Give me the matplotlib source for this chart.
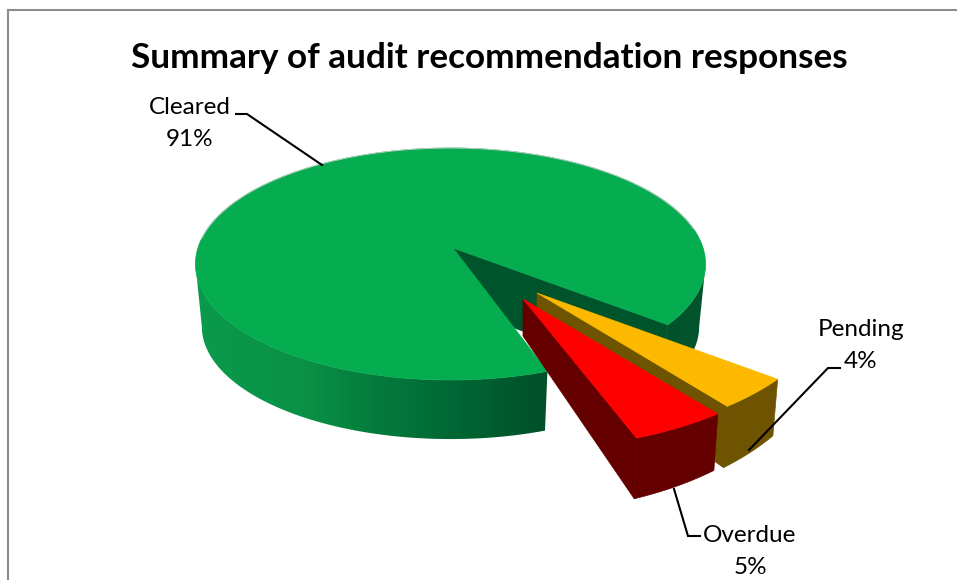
import numpy as np
import matplotlib
matplotlib.use("Agg")
import matplotlib.pyplot as plt
from matplotlib.patches import Polygon

TITLE = "Summary of audit recommendation responses"
categories = ["Cleared", "Pending", "Overdue"]
values = [91, 4, 5]
percent_labels = ["91%", "4%", "5%"]

W, H = 957, 580
GREEN, YELLOW, RED = "#06AD50", "#FDB900", "#FF0000"
YELLOW_WALL, RED_WALL, GREEN_CUT = "#6E5300", "#640000", "#00542B"
plt.rcParams["font.family"] = ["Lato", "DejaVu Sans"]

fig = plt.figure(figsize=(W / 100, H / 100), dpi=100)
ax = fig.add_axes([0, 0, 1, 1])
ax.axis("off")

# slice angles from the values (degrees, clockwise on screen, 90 = front)
START = 70.5
spans = np.array(values) / sum(values) * 360
a_cleared = (START, START + spans[0])
NUDGE = -2.5
a_pending = (a_cleared[1] - 360 + NUDGE, a_cleared[1] - 360 + NUDGE + spans[1])
a_overdue = (a_pending[1], a_pending[1] + spans[2])

# main disc: perspective projection of the unit circle
AX0, AY0 = 453, 248
CX = 450.5
K, B, A_ = -0.138, 113.8, 252.6
def disc(a):
    r = np.radians(a)
    x, y = np.cos(r), np.sin(r)
    den = 1 + K * y
    return A_ * x / den, B * y / den

def top_pt(a):
    x, y = disc(a)
    return CX + x, AY0 + y

def bot_pt(a):
    x, y = disc(a)
    return CX + 0.975 * x, AY0 + 0.97 * y + 63

# smooth shading of the green outer wall along the screen x axis
shade_x = [190, 300, 380, 450, 545, 720]
shade_c = np.array([(10, 154, 76), (10, 146, 70), (4, 122, 60), (0, 104, 52),
                    (0, 80, 41), (0, 84, 43)]) / 255
xs = np.linspace(190, 720, 531)
grad = np.column_stack([np.interp(xs, shade_x, shade_c[:, k]) for k in range(3)])[None, :, :]

# visible wall runs from the cut edges to the silhouette tangents of the disc
for a0, a1 in [(START, 172), (8, a_cleared[1] - 360)]:
    s = np.linspace(a0, a1, 200)
    tx, ty = top_pt(s)
    bx, by = bot_pt(s)
    wall = Polygon(list(zip(tx, ty)) + list(zip(bx, by))[::-1], fc="none", ec="none",
                   transform=ax.transData)
    ax.add_patch(wall)
    im = ax.imshow(grad, extent=(190, 720, 460, 200), aspect="auto", zorder=2, interpolation="bilinear")
    im.set_clip_path(wall)

ax.set_xlim(0, W)
ax.set_ylim(H, 0)

# green cut wall
seg = np.linspace(a_cleared[0], a_cleared[1], 361)
tx, ty = top_pt(seg)
ex, ey = top_pt(a_cleared[1])
ebx, eby = bot_pt(a_cleared[1])
ax.add_patch(Polygon([(AX0, AY0), (ex, ey), (ebx, eby), (AX0, AY0 + 56)],
                     fc=GREEN_CUT, ec=GREEN_CUT, lw=0.5, zorder=3))
# green top
ax.add_patch(Polygon([(AX0, AY0)] + list(zip(tx, ty)), fc=GREEN, ec=GREEN, lw=0.5, zorder=4))
rim = np.linspace(185, 350, 120)
rx, ry = top_pt(rim)
ax.plot(rx, ry, color="#BCCDC4", lw=0.7, zorder=4.2)

def exploded(apex, ang, depth, z, top_c, wall_c, R, RY):
    """Pulled-out slice: apex, angular span from the values, own radii."""
    SX, SY = 0.98, 1.17
    s = np.linspace(ang[0], ang[1], 30)
    r = np.radians(s)
    x, y = apex[0] + R * np.cos(r), apex[1] + RY * np.sin(r)
    xb = apex[0] + SX * R * np.cos(r)
    yb = apex[1] + SY * RY * np.sin(r) + depth
    outer = list(zip(x, y)) + list(zip(xb, yb))[::-1]
    ax.add_patch(Polygon(outer, fc=wall_c, ec=wall_c, lw=0.5, zorder=z))
    rad = [apex, (x[-1], y[-1]), (xb[-1], yb[-1]), (apex[0], apex[1] + depth)]
    ax.add_patch(Polygon(rad, fc=wall_c, ec=wall_c, lw=0.5, zorder=z))
    ax.add_patch(Polygon([apex] + list(zip(x, y)), fc=top_c, ec=top_c, lw=0.4, zorder=z + 0.5))

exploded((537, 293), a_pending, 42, 5, YELLOW, YELLOW_WALL, 296, 148)
exploded((523, 299), a_overdue, 37, 6, RED, RED_WALL, 303, 150)

# leader lines
ax.plot([236, 247, 322], [114, 114, 165], color="black", lw=1.5, zorder=8, solid_joinstyle="miter")
ax.plot([840, 828, 749], [368, 368, 450], color="black", lw=1.5, zorder=8, solid_joinstyle="miter")
ax.plot([700, 688, 674], [536, 536, 489], color="black", lw=1.5, zorder=8, solid_joinstyle="miter")

# frame
ax.plot([8, 8], [H, 10], color="#8C8C8C", lw=1.5, zorder=1, clip_on=False)
ax.plot([8, W], [10, 10], color="#8C8C8C", lw=1.5, zorder=1, clip_on=False)

# text
ax.text(489, 58, TITLE, fontsize=25.3, fontweight="bold", ha="center", va="center", color="black", zorder=9)
label_xy = [(190, 107, 139), (861, 330, 362), (750, 535, 567)]
for name, pct, (lx, y1, y2) in zip(categories, percent_labels, label_xy):
    ax.text(lx, y1, name, fontsize=17.5, ha="center", va="center", color="black", zorder=9)
    ax.text(lx, y2, pct, fontsize=17.5, ha="center", va="center", color="black", zorder=9)

fig.savefig("out.png", dpi=100, facecolor="white")
